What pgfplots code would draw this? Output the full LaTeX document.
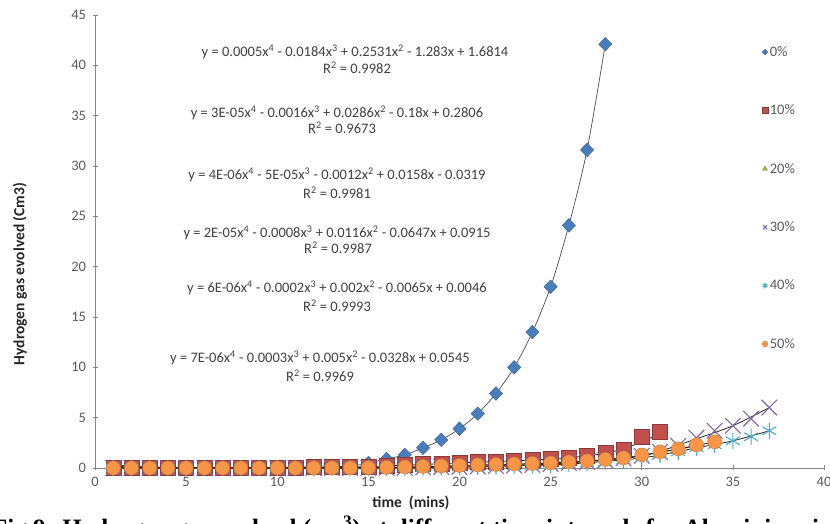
\documentclass[border=0pt]{standalone}
\usepackage{pgfplots}
\pgfplotsset{compat=1.18}
\usepackage{fontspec}
\setmainfont{Carlito}
\newfontfamily\capfont{Liberation Serif}
\definecolor{axisgray}{HTML}{868686}
\definecolor{txtgray}{HTML}{595959}
\definecolor{eqgray}{HTML}{404040}
\definecolor{sblue}{HTML}{4A7EBB}
\definecolor{sbluedk}{HTML}{385D8A}
\definecolor{sred}{HTML}{C0504D}
\definecolor{sreddk}{HTML}{8C3836}
\definecolor{sgreen}{HTML}{9BBB59}
\definecolor{sgreendk}{HTML}{71893F}
\definecolor{spurple}{HTML}{8064A2}
\definecolor{steal}{HTML}{4BACC6}
\definecolor{sorange}{HTML}{F79646}
\definecolor{sorangedk}{HTML}{C77A3A}
\begin{document}
\begin{tikzpicture}[x=1pt,y=1pt]
\useasboundingbox (0,0) rectangle (830,524);
\begin{axis}[
  at={(95pt,56pt)}, anchor=south west,
  scale only axis, width=729pt, height=453pt,
  xmin=0, xmax=40, ymin=0, ymax=45,
  xtick={0,5,...,40}, ytick={0,5,...,45},
  axis x line=bottom, axis y line=left,
  axis line style={-, draw=axisgray, line width=0.6pt},
  tick style={draw=axisgray, line width=0.6pt},
  major tick length=5pt, tick align=center,
  ticklabel style={font=\fontsize{14.5}{16}\selectfont, text=txtgray},
  yticklabel style={xshift=-3pt},
  xticklabel style={yshift=-3pt},
  /pgf/number format/assume math mode=true,
  clip=false,
  legend style={at={(0.915,0.94)}, anchor=north west, draw=none, fill=none,
    font=\fontsize{14.5}{16}\selectfont, text=txtgray, row sep=43pt,
    legend cell align=left, inner xsep=0pt},
  legend image post style={mark size=2.8pt},
]
% 0%
\addplot[only marks, mark=diamond*, mark size=6.8pt, mark options={xscale=1.3, fill=sblue, draw=sbluedk, line width=0.4pt}]
coordinates {(1,0.02)(2,0.02)(3,0.03)(4,0.03)(5,0.03)(6,0.04)(7,0.04)(8,0.05)(9,0.05)(10,0.06)(11,0.08)(12,0.1)(13,0.12)(14,0.2)(15,0.5)(16,0.9)(17,1.3)(18,2.0)(19,2.8)(20,3.9)(21,5.4)(22,7.4)(23,10.0)(24,13.5)(25,18.0)(26,24.1)(27,31.6)(28,42.1)};
\addlegendentry{0\%}
% 10%
\addplot[only marks, mark=square*, mark size=7.5pt, mark options={fill=sred, draw=sreddk, line width=0.4pt}]
coordinates {(1,0)(2,0)(3,0)(4,0)(5,0)(6,0)(7,0)(8,0.02)(9,0.03)(10,0.05)(11,0.06)(12,0.08)(13,0.1)(14,0.12)(15,0.15)(16,0.2)(17,0.3)(18,0.4)(19,0.45)(20,0.5)(21,0.6)(22,0.65)(23,0.7)(24,0.8)(25,0.9)(26,1.0)(27,1.2)(28,1.5)(29,1.8)(30,3.1)(31,3.6)};
\addlegendentry{10\%}
% 20%
\addplot[only marks, mark=triangle*, mark size=7pt, mark options={fill=sgreen, draw=sgreendk, line width=0.4pt}]
coordinates {(1,0)(2,0)(3,0)(4,0)(5,0)(6,0)(7,0)(8,0)(9,0)(10,0)(11,0)(12,0)(13,0)(14,0)(15,0.02)(16,0.05)(17,0.08)(18,0.1)(19,0.15)(20,0.2)(21,0.25)(22,0.3)(23,0.35)(24,0.4)(25,0.5)(26,0.6)(27,0.7)(28,0.85)(29,1.0)(30,1.2)(31,1.5)(32,1.8)(33,2.2)};
\addlegendentry{20\%}
% 30%
\addplot[only marks, mark=x, mark size=11pt, mark options={draw=spurple, line width=1.1pt}]
coordinates {(1,0)(2,0)(3,0)(4,0)(5,0)(6,0)(7,0)(8,0)(9,0)(10,0)(11,0)(12,0)(13,0)(14,0)(15,0)(16,0)(17,0.02)(18,0.05)(19,0.1)(20,0.12)(21,0.15)(22,0.2)(23,0.25)(24,0.3)(25,0.4)(26,0.5)(27,0.6)(28,0.75)(29,0.95)(30,1.2)(31,1.6)(32,2.2)(33,3.0)(34,3.7)(35,4.2)(36,4.9)(37,6.0)};
\addlegendentry{30\%}
% 40%
\addplot[only marks, mark=asterisk, mark size=8pt, mark options={draw=steal, line width=1.1pt}]
coordinates {(1,0)(2,0)(3,0)(4,0)(5,0)(6,0)(7,0)(8,0)(9,0)(10,0)(11,0)(12,0)(13,0)(14,0)(15,0)(16,0)(17,0.02)(18,0.03)(19,0.05)(20,0.08)(21,0.1)(22,0.15)(23,0.2)(24,0.25)(25,0.3)(26,0.4)(27,0.5)(28,0.6)(29,0.8)(30,1.0)(31,1.3)(32,1.6)(33,2.0)(34,2.3)(35,2.7)(36,3.1)(37,3.7)};
\addlegendentry{40\%}
% 50%
\addplot[only marks, mark=*, mark size=7pt, mark options={fill=sorange, draw=sorangedk, line width=0.4pt}]
coordinates {(1,0)(2,0)(3,0)(4,0)(5,0)(6,0)(7,0)(8,0)(9,0)(10,0)(11,0)(12,0)(13,0)(14,0)(15,0.02)(16,0.05)(17,0.1)(18,0.15)(19,0.2)(20,0.25)(21,0.3)(22,0.35)(23,0.4)(24,0.45)(25,0.5)(26,0.6)(27,0.7)(28,0.85)(29,1.0)(30,1.3)(31,1.6)(32,1.9)(33,2.3)(34,2.6)};
\addlegendentry{50\%}
% trendlines
\addplot[forget plot, smooth, draw=black!70, line width=0.7pt]
coordinates {(1,0.3)(4,0.05)(8,0.05)(12,0.1)(14,0.2)(15,0.5)(16,0.9)(17,1.3)(18,2.0)(19,2.8)(20,3.9)(21,5.4)(22,7.4)(23,10.0)(24,13.5)(25,18.0)(26,24.1)(27,31.6)(28,42.1)};
\addplot[forget plot, smooth, draw=black!85, line width=0.8pt]
coordinates {(1,0.15)(5,0.05)(10,0.05)(15,0.15)(20,0.5)(24,0.8)(27,1.2)(29,1.9)(31,3.4)};
\addplot[forget plot, smooth, draw=black!85, line width=0.8pt]
coordinates {(1,0)(10,0)(15,0.03)(20,0.2)(25,0.5)(29,1.0)(33,2.2)};
\addplot[forget plot, smooth, draw=black!85, line width=0.8pt]
coordinates {(1,0.05)(10,0)(17,0.02)(22,0.2)(26,0.5)(30,1.2)(33,2.9)(35,4.2)(37,6.0)};
\addplot[forget plot, smooth, draw=black!85, line width=0.8pt]
coordinates {(1,0)(10,0)(17,0.02)(22,0.15)(26,0.4)(30,1.0)(33,2.0)(35,2.7)(37,3.7)};
\addplot[forget plot, smooth, draw=black!85, line width=0.8pt]
coordinates {(1,0.05)(10,0)(15,0.02)(20,0.25)(25,0.5)(29,1.0)(32,1.9)(34,2.6)};
\end{axis}
% axis titles
\node[rotate=90, font=\bfseries\fontsize{15.5}{18}\selectfont, text=black!85] at (20,250) {Hydrogen gas evolved (Cm3)};
\node[font=\bfseries\fontsize{15.5}{18}\selectfont, text=black!85] at (411,21) {time\ \ (mins)};
% trendline equations
\begin{scope}[every node/.style={font=\fontsize{14.5}{16}\selectfont, text=eqgray, inner sep=0pt}]
\node at (355,472) {y = 0.0005x\textsuperscript{4} - 0.0184x\textsuperscript{3} + 0.2531x\textsuperscript{2} - 1.283x + 1.6814};
\node at (357,456) {R\textsuperscript{2} = 0.9982};
\node at (337,411) {y = 3E-05x\textsuperscript{4} - 0.0016x\textsuperscript{3} + 0.0286x\textsuperscript{2} - 0.18x + 0.2806};
\node at (342,396) {R\textsuperscript{2} = 0.9673};
\node at (337,349) {y = 4E-06x\textsuperscript{4} - 5E-05x\textsuperscript{3} - 0.0012x\textsuperscript{2} + 0.0158x - 0.0319};
\node at (337,331) {R\textsuperscript{2} = 0.9981};
\node at (337,291) {y = 2E-05x\textsuperscript{4} - 0.0008x\textsuperscript{3} + 0.0116x\textsuperscript{2} - 0.0647x + 0.0915};
\node at (338,276) {R\textsuperscript{2} = 0.9987};
\node at (337,236) {y = 6E-06x\textsuperscript{4} - 0.0002x\textsuperscript{3} + 0.002x\textsuperscript{2} - 0.0065x + 0.0046};
\node at (337,218) {R\textsuperscript{2} = 0.9993};
\node at (320,166) {y = 7E-06x\textsuperscript{4} - 0.0003x\textsuperscript{3} + 0.005x\textsuperscript{2} - 0.0328x + 0.0545};
\node at (320,148) {R\textsuperscript{2} = 0.9969};
\end{scope}
% figure caption (cut by the page edge, as in the source)
\node[anchor=base west, inner sep=0pt, font=\capfont\bfseries\fontsize{25}{30}\selectfont] at (-8,-13)
  {Fig 9: Hydrogen gas evolved (cm\textsuperscript{3}) at different time intervals for Aluminium in};
\end{tikzpicture}
\end{document}
